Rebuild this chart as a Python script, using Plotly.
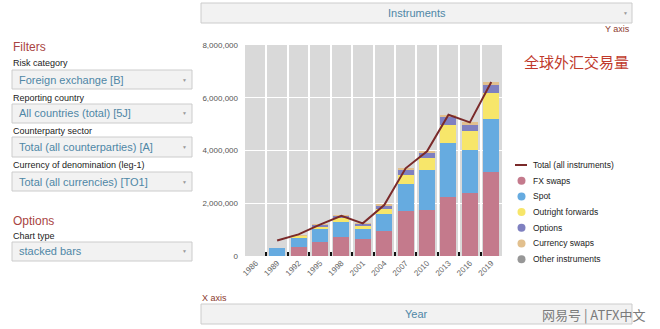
import plotly.graph_objects as go

# ---------------- data ----------------
years = ["1986", "1989", "1992", "1995", "1998", "2001", "2004", "2007", "2010", "2013", "2016", "2019"]
fx_swaps = [None, None, 324000, 546000, 734000, 656000, 954000, 1714000, 1759000, 2240000, 2378000, 3202000]
spot = [None, 300000, 394000, 494000, 568000, 386000, 631000, 1005000, 1489000, 2047000, 1652000, 1987000]
outright_forwards = [None, None, 58000, 97000, 128000, 130000, 209000, 362000, 475000, 679000, 700000, 999000]
options = [None, None, None, 41000, 87000, 60000, 119000, 212000, 207000, 337000, 254000, 294000]
currency_swaps = [None, None, 4000, 4000, 10000, 7000, 21000, 31000, 43000, 54000, 82000, 108000]
other_instruments = [None, None, None, None, None, None, None, None, None, None, None, None]
total = [None, 590000, 820000, 1190000, 1527000, 1239000, 1934000, 3324000, 3973000, 5357000, 5066000, 6595000]
y_ticks = [0, 2000000, 4000000, 6000000, 8000000]

series = [
    ("FX swaps", fx_swaps, "#c47a8c"),
    ("Spot", spot, "#66abe0"),
    ("Outright forwards", outright_forwards, "#f7e66a"),
    ("Options", options, "#7f80c0"),
    ("Currency swaps", currency_swaps, "#e2c08e"),
    ("Other instruments", other_instruments, "#979797"),
]
total_name = "Total (all instruments)"
line_color = "#7a2a2a"

W, H = 660, 329
def X(px): return px / W
def Y(py): return 1 - py / H

FONT = "Arial, Liberation Sans, sans-serif"

fig = go.Figure()
for name, vals, col in series:
    fig.add_trace(go.Bar(x=years, y=vals, name=name, marker=dict(color=col, line=dict(width=0)),
                         showlegend=False))
fig.add_trace(go.Scatter(x=years, y=total, mode="lines", name=total_name,
                         line=dict(color=line_color, width=2), showlegend=False))

shapes = []
annotations = []

def box(x0, y0, x1, y1, text, center=False, arrow=True, size=11):
    shapes.append(dict(type="rect", xref="paper", yref="paper", x0=X(x0), x1=X(x1), y0=Y(y1), y1=Y(y0),
                       fillcolor="#f2f2f2", line=dict(color="#cccccc", width=1), layer="below"))
    if center:
        annotations.append(dict(x=X((x0 + x1) / 2), y=Y((y0 + y1) / 2), xref="paper", yref="paper",
                                text=text, showarrow=False, xanchor="center", yanchor="middle",
                                font=dict(size=size, color="#4f87a6", family=FONT)))
    else:
        annotations.append(dict(x=X(x0 + 5), y=Y((y0 + y1) / 2), xref="paper", yref="paper",
                                text=text, showarrow=False, xanchor="left", yanchor="middle",
                                font=dict(size=size, color="#4f87a6", family=FONT)))
    if arrow:
        annotations.append(dict(x=X(x1 - 7), y=Y((y0 + y1) / 2), xref="paper", yref="paper",
                                text="▼", showarrow=False, xanchor="center", yanchor="middle",
                                font=dict(size=5, color="#999999", family=FONT)))

def label(px, py, text, size=9, color="#222222", anchor="left", family=FONT):
    annotations.append(dict(x=X(px), y=Y(py), xref="paper", yref="paper", text=text, showarrow=False,
                            xanchor=anchor, yanchor="middle", font=dict(size=size, color=color, family=family)))

# left panel
label(11, 47, "Filters", size=12, color="#a94442")
label(11, 63, "Risk category")
box(12, 70, 192, 89, "Foreign exchange [B]")
label(11, 98, "Reporting country")
box(12, 104, 192, 123, "All countries (total) [5J]")
label(11, 131, "Counterparty sector")
box(12, 137, 192, 157, "Total (all counterparties) [A]")
label(11, 165, "Currency of denomination (leg-1)")
box(12, 172, 192, 191, "Total (all currencies) [TO1]")
label(11, 221, "Options", size=12, color="#a94442")
label(11, 236, "Chart type")
box(12, 242, 192, 261, "stacked bars")

# top / bottom selectors
box(201, 3, 632, 23, "Instruments", center=True)
label(632, 29, "Y axis", size=9, color="#8b3a2e", anchor="right")
label(200, 298, "X axis", size=9, color="#8b3a2e")
box(201, 304, 632, 324, "Year", center=True, arrow=False)
label(648, 314, "网易号 | ATFX中文", size=13, color="#7a7a7a", anchor="right", family="Noto Sans CJK SC")

# chart title
annotations.append(dict(x=X(576), y=Y(61), xref="paper", yref="paper", text="全球外汇交易量",
                        showarrow=False, xanchor="center", yanchor="middle",
                        font=dict(size=15, color="#c0392b", family="Noto Sans CJK SC")))

# legend (drawn as a key beside the plot)
leg_y0, leg_dy = 165, 15.7
shapes.append(dict(type="line", xref="paper", yref="paper", x0=X(515), x1=X(527), y0=Y(leg_y0), y1=Y(leg_y0),
                   line=dict(color=line_color, width=2)))
label(531, leg_y0, total_name, size=8.5)
for i, (name, vals, col) in enumerate(series):
    cy = leg_y0 + leg_dy * (i + 1)
    shapes.append(dict(type="circle", xref="paper", yref="paper", x0=X(517.5), x1=X(525.5),
                       y0=Y(cy + 4), y1=Y(cy - 4), fillcolor=col, line=dict(width=0)))
    label(531, cy, name, size=8.5)

fig.update_layout(
    width=W, height=H, autosize=False,
    margin=dict(l=0, r=0, t=0, b=0),
    paper_bgcolor="white", plot_bgcolor="#d9d9d9",
    barmode="stack", bargap=0.25,
    font=dict(family=FONT, size=9, color="#333333"),
    shapes=shapes, annotations=annotations,
    showlegend=False,
    xaxis=dict(domain=[X(245), X(502)], type="category", categoryorder="array", categoryarray=years,
               tickson="boundaries", ticks="inside", ticklen=4, tickwidth=2, tickcolor="#111111",
               showgrid=True, gridcolor="white", gridwidth=1.5, tickangle=-45,
               tickfont=dict(size=8, color="#666666"), automargin=False, showline=False),
    yaxis=dict(domain=[Y(256), Y(45)], range=[0, 8000000], tickvals=y_ticks, tickformat=",d",
               showgrid=True, gridcolor="white", gridwidth=1, zeroline=False, ticks="",
               ticklabelstandoff=6, tickfont=dict(size=8, color="#555555"), automargin=False,
               showline=False),
)

fig.write_html("out.html")
